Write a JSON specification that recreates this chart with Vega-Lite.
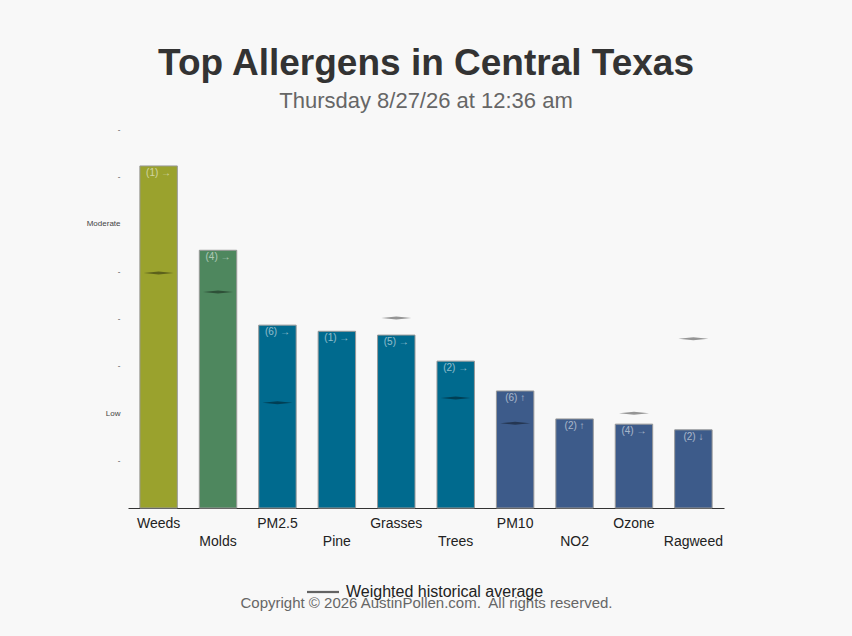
{
  "$schema": "https://vega.github.io/schema/vega-lite/v6.json",
  "width": 596,
  "height": 379,
  "autosize": {"type": "none"},
  "padding": {"left": 128, "top": 129, "right": 128, "bottom": 128},
  "background": "#f8f8f8",
  "title": {
    "text": "Top Allergens in Central Texas",
    "subtitle": "Thursday 8/27/26 at 12:36 am",
    "anchor": "middle",
    "frame": "group",
    "font": "Liberation Sans",
    "fontSize": 37,
    "fontWeight": "bold",
    "color": "#333333",
    "subtitleFont": "Liberation Sans",
    "subtitleFontSize": 22,
    "subtitleColor": "#666666",
    "subtitlePadding": 8,
    "offset": 12
  },
  "config": {
    "view": {"stroke": null},
    "font": "Liberation Sans"
  },
  "data": {
    "values": [
      {"allergen": "Weeds", "level": 7.22, "avg": 4.96, "tier": "t1", "label": "(1) →"},
      {"allergen": "Molds", "level": 5.44, "avg": 4.56, "tier": "t2", "label": "(4) →"},
      {"allergen": "PM2.5", "level": 3.86, "avg": 2.22, "tier": "t3", "label": "(6) →"},
      {"allergen": "Pine", "level": 3.73, "avg": null, "tier": "t3", "label": "(1) →"},
      {"allergen": "Grasses", "level": 3.65, "avg": 4.01, "tier": "t3", "label": "(5) →"},
      {"allergen": "Trees", "level": 3.10, "avg": 2.32, "tier": "t3", "label": "(2) →"},
      {"allergen": "PM10", "level": 2.47, "avg": 1.79, "tier": "t4", "label": "(6) ↑"},
      {"allergen": "NO2", "level": 1.88, "avg": null, "tier": "t4", "label": "(2) ↑"},
      {"allergen": "Ozone", "level": 1.77, "avg": 2.0, "tier": "t4", "label": "(4) →"},
      {"allergen": "Ragweed", "level": 1.65, "avg": 3.57, "tier": "t4", "label": "(2) ↓"}
    ]
  },
  "encoding": {
    "x": {
      "field": "allergen",
      "type": "nominal",
      "sort": null,
      "scale": {"paddingInner": 0.37, "paddingOuter": 0.2},
      "axis": {
        "title": "Copyright © 2026 AustinPollen.com.\u00a0 All rights reserved.",
        "titleFont": "Liberation Sans",
        "titleFontSize": 15,
        "titleFontWeight": "normal",
        "titleColor": "#666666",
        "titleBaseline": "top",
        "titleY": 87,
        "labelAngle": 0,
        "labelFont": "Liberation Sans",
        "labelFontSize": 14,
        "labelColor": "#222222",
        "labelPadding": {
          "condition": {"test": "indexof(['Molds','Pine','Trees','NO2','Ragweed'], datum.value) >= 0", "value": 26},
          "value": 8
        },
        "ticks": false,
        "domainColor": "#333333",
        "domainWidth": 1
      }
    }
  },
  "layer": [
    {
      "mark": {"type": "bar", "stroke": "#999999", "strokeWidth": 1},
      "encoding": {
        "y": {
          "field": "level",
          "type": "quantitative",
          "scale": {"domain": [0, 8], "nice": false},
          "axis": {
            "title": null,
            "values": [1, 2, 3, 4, 5, 6, 7, 8],
            "labelExpr": "datum.value == 2 ? 'Low' : datum.value == 6 ? 'Moderate' : '-'",
            "labelFont": "Liberation Sans",
            "labelFontSize": 8,
            "labelColor": "#444444",
            "labelPadding": 8,
            "ticks": false,
            "domain": false,
            "grid": false
          }
        },
        "color": {
          "field": "tier",
          "type": "nominal",
          "scale": {"domain": ["t1", "t2", "t3", "t4"], "range": ["#9aa22d", "#4e875e", "#006a8e", "#3d5b8a"]},
          "legend": null
        }
      }
    },
    {
      "mark": {"type": "text", "baseline": "top", "dy": 2, "fontSize": 10, "font": "Liberation Sans", "color": "#ffffff", "opacity": 0.55},
      "encoding": {
        "y": {"field": "level", "type": "quantitative"},
        "text": {"field": "label"}
      }
    },
    {
      "transform": [{"filter": "datum.avg != null"}],
      "mark": {"type": "point", "filled": true, "shape": "M-1,0L0,-0.1L1,0L0,0.1Z", "size": 900, "opacity": 0.4, "strokeWidth": 0},
      "encoding": {
        "y": {"field": "avg", "type": "quantitative"},
        "color": {
          "datum": "Weighted historical average",
          "scale": {"range": ["#000000"]},
          "legend": {
            "title": null,
            "orient": "none",
            "legendX": 178,
            "legendY": 446,
            "symbolType": "M-1,-0.07L1,-0.07L1,0.07L-1,0.07Z",
            "symbolSize": 1024,
            "symbolOpacity": 0.6,
            "labelFont": "Liberation Sans",
            "labelFontSize": 16,
            "labelColor": "#222222",
            "labelOffset": 6,
            "labelLimit": 400
          }
        }
      }
    }
  ],
  "resolve": {"scale": {"color": "independent"}}
}
